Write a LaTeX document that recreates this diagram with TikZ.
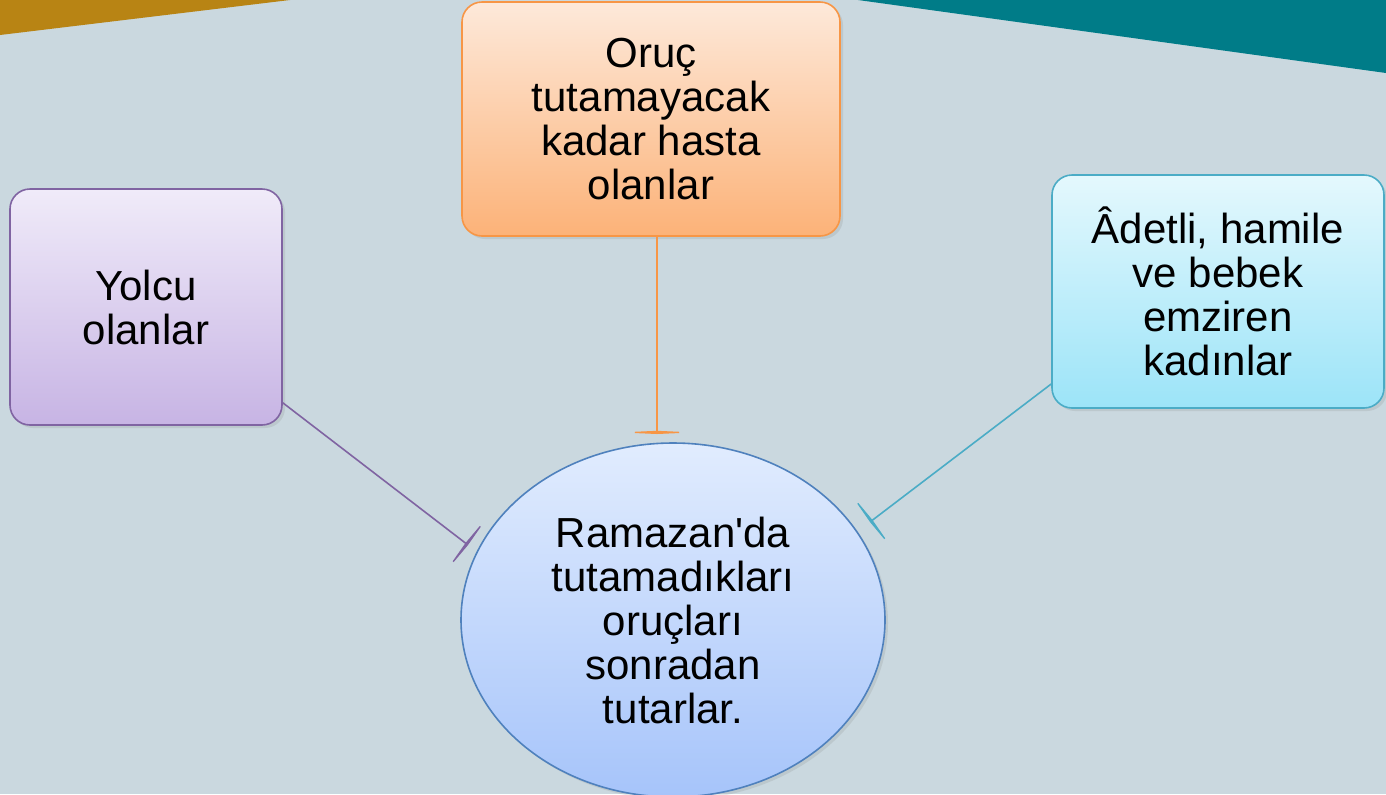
\documentclass[tikz,border=0pt]{standalone}
\usepackage{fontspec}
\setmainfont{Liberation Sans}[Ligatures=TeXOff]
\usetikzlibrary{shapes.geometric,arrows.meta,shadows}
\definecolor{bgc}{HTML}{CAD8DF}
\definecolor{goldc}{HTML}{B88414}
\definecolor{tealc}{HTML}{007C88}
\definecolor{purpc}{HTML}{8064A2}
\definecolor{orngc}{HTML}{F79646}
\definecolor{cyanc}{HTML}{4BACC6}
\definecolor{bluec}{HTML}{4F81BD}
\tikzset{
  txt/.style={font=\fontsize{21pt}{22pt}\selectfont, align=center, text=black},
  boxnode/.style={txt, rectangle, rounded corners=10pt, line width=0.8pt, inner sep=0pt,
    drop shadow={opacity=0.18, shadow xshift=1.5pt, shadow yshift=-1.5pt}},
  conn/.style={line width=0.8pt, -{Kite[width=37pt, length=1.6pt, inset=0.8pt]}},
}
\begin{document}
\begin{tikzpicture}[x=0.5pt,y=-0.5pt]
\useasboundingbox (0,0) rectangle (1386,794);
\clip (0,0) rectangle (1386,794);
\fill[bgc] (0,0) rectangle (1386,794);
\fill[goldc] (0,0) -- (290,0) -- (0,35) -- cycle;
\fill[tealc] (858,0) -- (1386,0) -- (1386,73) -- cycle;

\node[boxnode, draw=purpc, top color={rgb,255:red,240;green,235;blue,249}, bottom color={rgb,255:red,199;green,180;blue,228},
  minimum width=136pt, minimum height=118pt] (yolcu) at (146,307) {Yolcu\\olanlar};
\node[boxnode, draw=orngc, top color={rgb,255:red,253;green,233;blue,218}, bottom color={rgb,255:red,252;green,178;blue,120},
  minimum width=189pt, minimum height=117pt] (oruc) at (651,119) {Oruç\\tutamayacak\\kadar hasta\\olanlar};
\node[boxnode, draw=cyanc, top color={rgb,255:red,228;green,248;blue,253}, bottom color={rgb,255:red,156;green,228;blue,248},
  minimum width=166pt, minimum height=116.5pt] (adet) at (1218,291.5) {Âdetli, hamile\\ve bebek\\emziren\\kadınlar};
\node[txt, ellipse, draw=bluec, line width=0.8pt, inner sep=0pt, top color={rgb,255:red,225;green,236;blue,254}, bottom color={rgb,255:red,166;green,196;blue,250},
  minimum width=212pt, minimum height=177pt,
  drop shadow={opacity=0.18, shadow xshift=1.5pt, shadow yshift=-1.5pt}] (ramazan) at (673,620)
  {Ramazan'da\\tutamadıkları\\oruçları\\sonradan\\tutarlar.};

\coordinate (pe) at (468,545);
\coordinate (oe) at (657,434);
\coordinate (te) at (870,522);
\draw[conn, draw=purpc, fill=purpc] (yolcu.-35.5) -- (pe);
\draw[conn, draw=orngc, fill=orngc] ([xshift=3pt]oruc.south) -- (oe);
\draw[conn, draw=cyanc, fill=cyanc] (adet.209.4) -- (te);
\end{tikzpicture}
\end{document}
